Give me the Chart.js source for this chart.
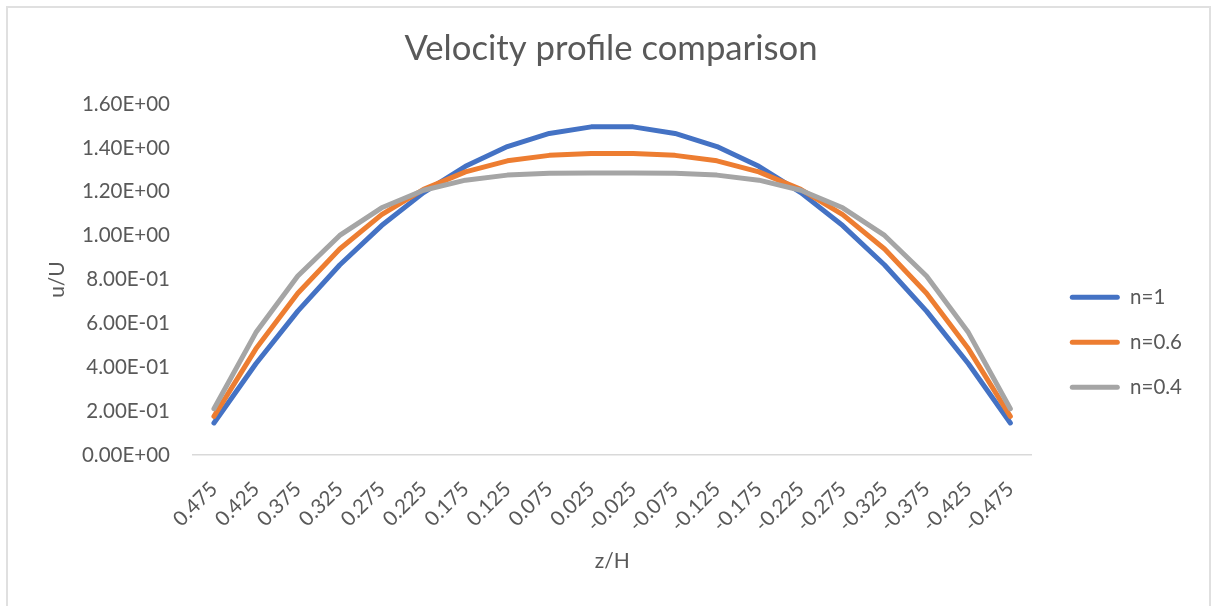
<!DOCTYPE html>
<html>
<head>
<meta charset="utf-8">
<script src="https://cdn.jsdelivr.net/npm/chart.js@4.4.1/dist/chart.umd.min.js"></script>
<style>
  html, body { margin: 0; padding: 0; background: #ffffff; }
  #wrap { position: relative; width: 1219px; height: 606px; overflow: hidden; }
  #frame { position: absolute; left: 6px; top: 6px; width: 1205px; height: 620px; border: 2px solid #e0e0e0; box-sizing: border-box; pointer-events: none; }
  canvas { position: absolute; left: 0; top: 0; }
</style>
</head>
<body>
<div id="wrap">
  <canvas id="c" width="1219" height="606"></canvas>
  <div id="frame"></div>
</div>
<script>
// ---- data ----
const zLabels = ['0.475','0.425','0.375','0.325','0.275','0.225','0.175','0.125','0.075','0.025',
                 '-0.025','-0.075','-0.125','-0.175','-0.225','-0.275','-0.325','-0.375','-0.425','-0.475'];
const seriesNames = ['n=1', 'n=0.6', 'n=0.4'];
const n1  = [0.146, 0.416, 0.656, 0.866, 1.046, 1.196, 1.316, 1.406, 1.466, 1.496,
             1.496, 1.466, 1.406, 1.316, 1.196, 1.046, 0.866, 0.656, 0.416, 0.146];
const n06 = [0.176, 0.484, 0.737, 0.939, 1.096, 1.211, 1.291, 1.341, 1.366, 1.375,
             1.375, 1.366, 1.341, 1.291, 1.211, 1.096, 0.939, 0.737, 0.484, 0.176];
const n04 = [0.211, 0.558, 0.816, 1.001, 1.127, 1.207, 1.253, 1.276, 1.284, 1.286,
             1.286, 1.284, 1.276, 1.253, 1.207, 1.127, 1.001, 0.816, 0.558, 0.211];
const yTickMin = 0, yTickMax = 1.6, yTickStep = 0.2;

const FONT = 'Lato';
const TXT = '#595959';
const LBL = 20.5;

function sci(v) {
  const s = Number(v).toExponential(2);
  const m = s.match(/^(-?[\d.]+)e([+-])(\d+)$/);
  if (!m) return s;
  return m[1] + 'E' + m[2] + (m[3].length < 2 ? '0' + m[3] : m[3]);
}

new Chart(document.getElementById('c'), {
  type: 'line',
  data: {
    labels: zLabels,
    datasets: [
      { label: seriesNames[0], data: n1,  borderColor: '#4472C4', backgroundColor: '#4472C4', order: 3 },
      { label: seriesNames[1], data: n06, borderColor: '#ED7D31', backgroundColor: '#ED7D31', order: 2 },
      { label: seriesNames[2], data: n04, borderColor: '#A5A5A5', backgroundColor: '#A5A5A5', order: 1 }
    ]
  },
  options: {
    responsive: false,
    animation: false,
    devicePixelRatio: 1,
    layout: { padding: { left: 30, right: 27, top: 10, bottom: 32 } },
    elements: {
      line: { borderWidth: 5, tension: 0, borderCapStyle: 'round', borderJoinStyle: 'round', fill: false },
      point: { radius: 0, hoverRadius: 0 }
    },
    plugins: {
      title: {
        display: true,
        text: 'Velocity profile comparison',
        color: TXT,
        font: { family: FONT, size: 34.7, weight: 'normal', lineHeight: 1.2 },
        padding: { top: 18, bottom: 34.4 }
      },
      legend: {
        display: true,
        position: 'right',
        align: 'center',
        title: { display: true, text: ' ', font: { family: FONT, size: 12 }, padding: 43 },
        labels: {
          color: TXT,
          font: { family: FONT, size: LBL },
          boxWidth: 50,
          boxHeight: 5,
          padding: 24.5,
          useBorderRadius: true,
          borderRadius: 2.5,
          sort: (a, b) => a.datasetIndex - b.datasetIndex,
          generateLabels: (chart) => {
            const items = Chart.defaults.plugins.legend.labels.generateLabels(chart);
            items.forEach(it => { it.lineWidth = 0; });
            return items;
          }
        }
      },
      tooltip: { enabled: false }
    },
    scales: {
      x: {
        offset: true,
        grid: { display: false },
        border: { display: true, color: '#d9d9d9', width: 1.5 },
        ticks: {
          color: TXT,
          font: { family: FONT, size: LBL },
          minRotation: 45,
          maxRotation: 45,
          autoSkip: false,
          padding: 14
        },
        title: {
          display: true,
          text: 'z/H',
          color: TXT,
          font: { family: FONT, size: 21 },
          padding: { top: 0, bottom: 0 }
        },
        afterFit: (s) => { s.height = 119; }
      },
      y: {
        min: yTickMin,
        max: yTickMax,
        grid: { display: false },
        border: { display: false },
        ticks: {
          stepSize: yTickStep,
          color: TXT,
          font: { family: FONT, size: LBL },
          padding: 15,
          callback: (v) => sci(v)
        },
        title: {
          display: true,
          text: 'u/U',
          color: TXT,
          font: { family: FONT, size: 21 },
          padding: { top: 15, bottom: 0 }
        },
        afterFit: (s) => { s.width = 163; }
      },
      spacer: {
        type: 'linear',
        position: 'right',
        display: true,
        grid: { display: false },
        border: { display: false },
        ticks: { display: false },
        afterFit: (s) => { s.width = 14; }
      }
    }
  }
});
</script>
</body>
</html>
